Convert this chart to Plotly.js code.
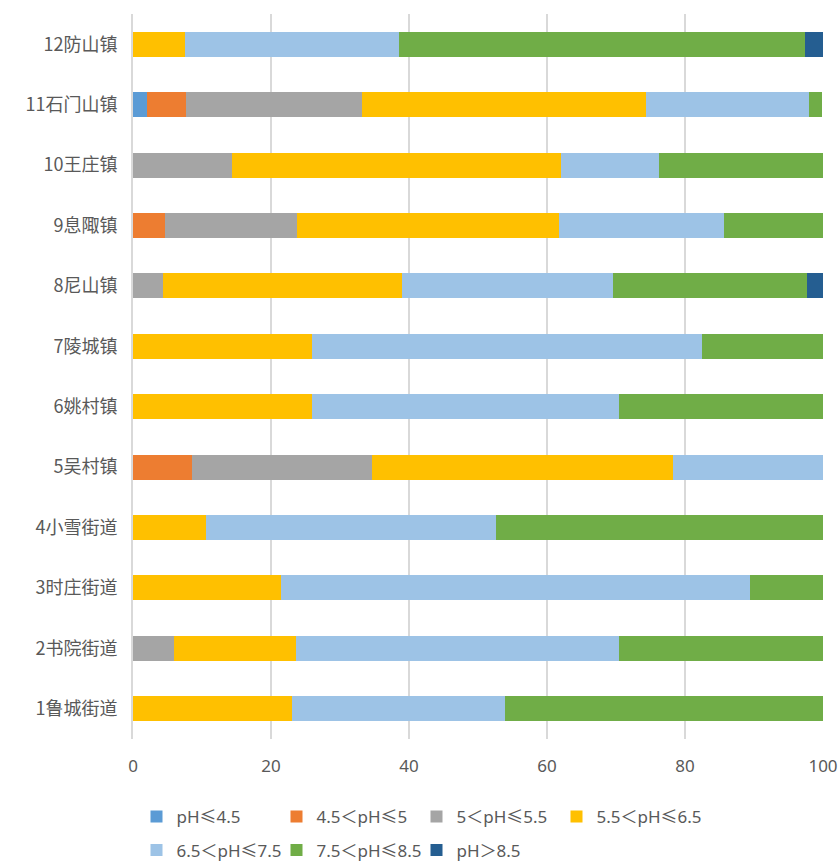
<!DOCTYPE html>
<html>
<head>
<meta charset="utf-8">
<script src="https://cdn.plot.ly/plotly-3.0.1.min.js"></script>
<style>
  html, body { margin: 0; padding: 0; background: #fff; }
  #chart { width: 840px; height: 861px; }
</style>
</head>
<body>
<div id="chart"></div>
<script>
// Towns / sub-districts, bottom to top
const towns = ['1鲁城街道', '2书院街道', '3时庄街道', '4小雪街道', '5吴村镇', '6姚村镇',
               '7陵城镇', '8尼山镇', '9息陬镇', '10王庄镇', '11石门山镇', '12防山镇'];

// Share (%) of samples in each pH class, per town
const ph_le45   = [0,    0,    0,    0,    0,    0,    0,    0,    0,    0,    2.0,  0];
const ph_45_5   = [0,    0,    0,    0,    8.6,  0,    0,    0,    4.7,  0,    5.7,  0];
const ph_5_55   = [0,    5.9,  0,    0,    26.1, 0,    0,    4.3,  19.1, 14.3, 25.5, 0];
const ph_55_65  = [23.0, 17.7, 21.4, 10.6, 43.5, 26.0, 26.0, 34.7, 38.0, 47.7, 41.1, 7.6];
const ph_65_75  = [30.9, 46.9, 68.0, 42.0, 21.8, 44.4, 56.5, 30.5, 23.9, 14.2, 23.6, 30.9];
const ph_75_85  = [46.1, 29.5, 10.6, 47.4, 0,    29.6, 17.5, 28.2, 14.3, 23.8, 2.0,  58.9];
const ph_gt85   = [0,    0,    0,    0,    0,    0,    0,    2.3,  0,    0,    0,    2.6];

const classNames = ['pH≤4.5', '4.5＜pH≤5', '5＜pH≤5.5', '5.5＜pH≤6.5',
                    '6.5＜pH≤7.5', '7.5＜pH≤8.5', 'pH＞8.5'];
const classValues = [ph_le45, ph_45_5, ph_5_55, ph_55_65, ph_65_75, ph_75_85, ph_gt85];
const classColors = ['#5B9BD5', '#ED7D31', '#A5A5A5', '#FFC000', '#9DC3E6', '#70AD47', '#255E91'];
// legend rows: first three classes on top, the fourth closes the top row on its own
// (so its label is not clipped), remaining three on the second row
const classLegend = ['legend', 'legend', 'legend', 'legend3', 'legend2', 'legend2', 'legend2'];

const xTicks = [0, 20, 40, 60, 80, 100];

const fontFamily = '"Noto Sans", "Noto Sans CJK SC", sans-serif';
const cjkFamily = '"Noto Sans CJK SC", "Noto Sans", sans-serif';
const textColor = '#595959';

const traces = classNames.map((name, i) => ({
  type: 'bar',
  orientation: 'h',
  name: name,
  y: towns,
  x: classValues[i],
  legend: classLegend[i],
  marker: { color: classColors[i], line: { width: 0 } },
  hovertemplate: '%{y}<br>' + name + ': %{x}%<extra></extra>'
}));

const legendStyle = (x, y, fixedWidth) => {
  const l = {
    orientation: 'h',
    xref: 'container',
    yref: 'container',
    x: x,
    xanchor: 'left',
    y: y,
    yanchor: 'middle',
    traceorder: 'normal',
    font: { size: 17, color: textColor, family: fontFamily },
    bgcolor: 'rgba(0,0,0,0)'
  };
  if (fixedWidth) {
    l.entrywidth = 95;
    l.entrywidthmode = 'pixels';
  }
  return l;
};

const layout = {
  width: 840,
  height: 861,
  barmode: 'stack',
  bargap: 0.587,
  paper_bgcolor: '#ffffff',
  plot_bgcolor: '#ffffff',
  margin: { l: 133, r: 17, t: 14, b: 122, pad: 0 },
  font: { family: fontFamily, color: textColor },
  xaxis: {
    range: [0, 100],
    tickvals: xTicks,
    ticktext: xTicks.map(String),
    showgrid: true,
    gridcolor: '#d9d9d9',
    gridwidth: 2,
    zeroline: false,
    showline: false,
    ticks: 'outside',
    ticklen: 12,
    tickcolor: 'rgba(0,0,0,0)',
    tickfont: { size: 17, color: textColor, family: fontFamily },
    fixedrange: true
  },
  yaxis: {
    type: 'category',
    categoryorder: 'array',
    categoryarray: towns,
    showgrid: false,
    zeroline: false,
    showline: true,
    linecolor: '#d9d9d9',
    linewidth: 2,
    ticks: 'outside',
    ticklen: 10,
    tickcolor: 'rgba(0,0,0,0)',
    tickfont: { size: 18, color: textColor, family: cjkFamily },
    fixedrange: true
  },
  showlegend: true,
  legend: legendStyle(0.1625, 0.0511, true),
  legend3: legendStyle(0.1625 + 3 * 140 / 840, 0.0511, false),
  legend2: legendStyle(0.1625, 0.0122, true)
};

Plotly.newPlot('chart', traces, layout, { displayModeBar: false, staticPlot: true });
</script>
</body>
</html>
